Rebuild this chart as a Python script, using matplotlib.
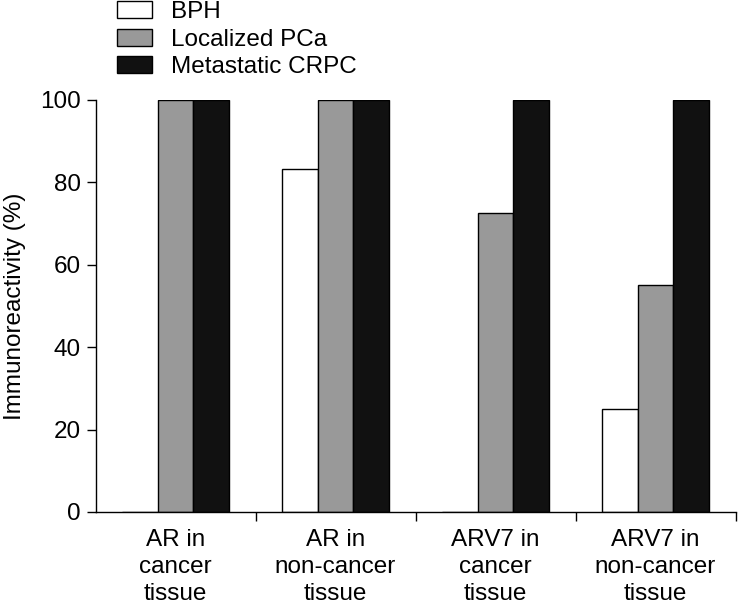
import matplotlib.pyplot as plt
import matplotlib.patches as mpatches
import numpy as np

plt.rcParams['font.family'] = ['Liberation Sans', 'DejaVu Sans']

groups = ['AR in\ncancer\ntissue', 'AR in\nnon-cancer\ntissue',
          'ARV7 in\ncancer\ntissue', 'ARV7 in\nnon-cancer\ntissue']
series = ['BPH', 'Localized PCa', 'Metastatic CRPC']
bph = [0, 83.3, 0, 25]
localized = [100, 100, 72.5, 55]
metastatic = [100, 100, 100, 100]
colors = ['white', '#999999', '#111111']

fs = 17.5

fig = plt.figure(figsize=(7.38, 6.06), dpi=100)
ax = fig.add_axes([95.5 / 738, 94 / 606, 640 / 738, 412 / 606])

x = np.arange(len(groups))
w = 0.222
for i, (vals, col) in enumerate(zip([bph, localized, metastatic], colors)):
    ax.bar(x + (i - 1) * w, vals, w, color=col, edgecolor='black', linewidth=1.0)

ax.set_xlim(-0.5, len(groups) - 0.5)
ax.set_ylim(0, 100)
ax.set_yticks([0, 20, 40, 60, 80, 100])
ax.spines['top'].set_visible(False)
ax.spines['right'].set_visible(False)
for s in ['left', 'bottom']:
    ax.spines[s].set_linewidth(1.0)

ax.set_xticks(x)
ax.set_xticklabels(groups, fontsize=fs, linespacing=1.3)
ax.set_xticks(np.arange(len(groups)) + 0.5, minor=True)
ax.tick_params(axis='x', which='major', length=0, pad=12)
ax.tick_params(axis='x', which='minor', length=6.5, width=1.0, direction='out')
ax.tick_params(axis='y', length=6.5, width=1.0, direction='out', labelsize=fs, pad=4)
ax.set_ylabel('Immunoreactivity (%)', fontsize=fs)
ax.yaxis.set_label_coords(-0.108, 0.5)

handles = [mpatches.Patch(facecolor=c, edgecolor='black', linewidth=1.0) for c in colors]
fig.legend(handles, series, loc='upper left', bbox_to_anchor=(116 / 738, 1.0),
           frameon=False, fontsize=fs, handlelength=1.45, handleheight=0.7,
           handletextpad=0.75, labelspacing=0.22, borderaxespad=0, borderpad=0.05)

fig.savefig('out.png', dpi=100)
